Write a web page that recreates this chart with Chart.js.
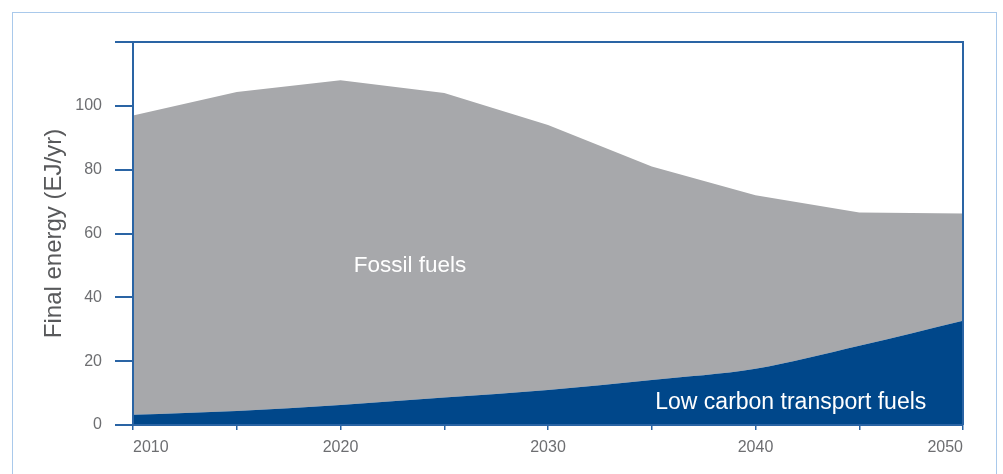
<!DOCTYPE html>
<html>
<head>
<meta charset="utf-8">
<script src="https://cdn.jsdelivr.net/npm/chart.js@4.4.1/dist/chart.umd.min.js"></script>
<style>
  html, body { margin: 0; padding: 0; background: #fff; overflow: hidden; }
  #frame {
    position: absolute; left: 12px; top: 12px; width: 985px; height: 520px;
    border: 1.5px solid #a9c9eb; box-sizing: border-box;
  }
  #wrap { position: absolute; left: 0; top: 0; width: 1003px; height: 474px; }
</style>
</head>
<body>
<div id="frame"></div>
<div id="wrap"><canvas id="energyChart"></canvas></div>
<script>
const years = [2010, 2015, 2020, 2025, 2030, 2035, 2040, 2045, 2050];
// top edge of the grey area = total final energy
const totalEnergy = [97, 104.3, 108, 104, 94, 81, 72, 66.6, 66.3];
const lowCarbon = [3.2, 4.4, 6.3, 8.6, 11, 14.1, 17.6, 24.8, 32.7];
const yTicks = [0, 20, 40, 60, 80, 100];

const areaLabels = [
    { text: 'Fossil fuels', x: 2023.35, y: 50, size: 22.5 },
    { text: 'Low carbon transport fuels', x: 2041.7, y: 6.9, size: 23 }
];

const axisBlue = '#2a64a4';
const tickGrey = '#6d6e71';
const fontFamily = '"Liberation Sans", Arial, sans-serif';

const frameLines = {
    id: 'frameLines',
    afterDraw(chart) {
        const { ctx, chartArea } = chart;
        ctx.save();
        ctx.strokeStyle = axisBlue;
        ctx.lineWidth = 2;
        ctx.beginPath();
        ctx.moveTo(chartArea.left, chartArea.top);
        ctx.lineTo(chartArea.right, chartArea.top);
        ctx.lineTo(chartArea.right, chartArea.bottom);
        ctx.stroke();
        ctx.restore();
    }
};

const areaText = {
    id: 'areaText',
    afterDatasetsDraw(chart) {
        const { ctx, scales } = chart;
        ctx.save();
        ctx.fillStyle = '#ffffff';
        ctx.textAlign = 'center';
        ctx.textBaseline = 'middle';
        areaLabels.forEach(l => {
            ctx.font = l.size + 'px ' + fontFamily;
            ctx.fillText(l.text, scales.x.getPixelForValue(l.x), scales.y.getPixelForValue(l.y));
        });
        ctx.restore();
    }
};

new Chart(document.getElementById('energyChart'), {
    type: 'line',
    data: {
        datasets: [{
            label: 'Low carbon transport fuels',
            data: years.map((yr, i) => ({ x: yr, y: lowCarbon[i] })),
            backgroundColor: '#00478a',
            borderWidth: 0,
            pointRadius: 0,
            fill: 'origin',
            cubicInterpolationMode: 'monotone'
        }, {
            label: 'Fossil fuels',
            data: years.map((yr, i) => ({ x: yr, y: totalEnergy[i] })),
            backgroundColor: '#a7a8ab',
            borderWidth: 0,
            pointRadius: 0,
            fill: '-1',
            tension: 0
        }]
    },
    options: {
        responsive: true,
        maintainAspectRatio: false,
        animation: false,
        layout: { padding: { top: 42, right: 40, left: 0, bottom: 0 } },
        plugins: {
            legend: { display: false },
            tooltip: { enabled: false }
        },
        scales: {
            x: {
                type: 'linear',
                min: 2010,
                max: 2050,
                afterFit: s => { s.height = 49; },
                grid: { drawOnChartArea: false, tickLength: 5, color: axisBlue, lineWidth: 1.5, z: 1 },
                border: { color: axisBlue, width: 2, z: 1 },
                ticks: {
                    stepSize: 5,
                    align: 'inner',
                    padding: 8,
                    color: tickGrey,
                    font: { family: fontFamily, size: 16 },
                    callback: v => (v % 10 === 0 ? String(v) : '')
                }
            },
            y: {
                min: 0,
                max: 120,
                afterFit: s => { s.width = 133; },
                grid: { drawOnChartArea: false, tickLength: 18, color: axisBlue, lineWidth: 2, z: 1 },
                border: { color: axisBlue, width: 2, z: 1 },
                ticks: {
                    stepSize: 20,
                    padding: 13,
                    color: tickGrey,
                    font: { family: fontFamily, size: 16 },
                    callback: v => (yTicks.includes(v) ? String(v) : '')
                },
                title: {
                    display: true,
                    text: 'Final energy (EJ/yr)',
                    color: '#58595b',
                    font: { family: fontFamily, size: 24 },
                    padding: { top: 40, bottom: 0 }
                }
            }
        }
    },
    plugins: [frameLines, areaText]
});
</script>
</body>
</html>
